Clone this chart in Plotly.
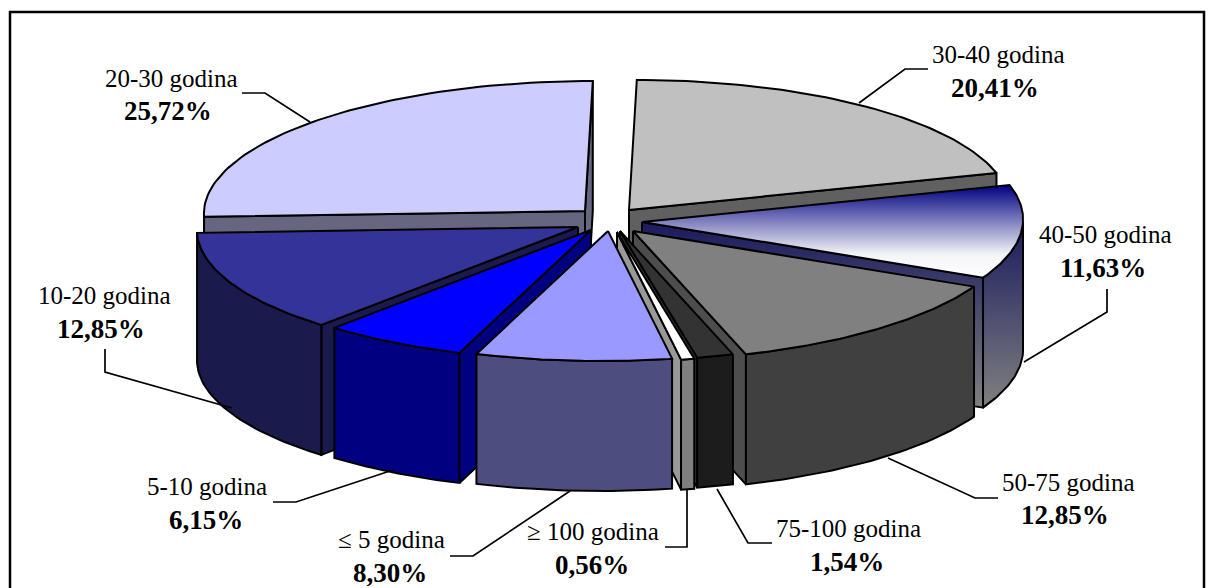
import numpy as np
import plotly.graph_objects as go

# ---- data (clockwise from the top) ----
categories = ["30-40 godina", "40-50 godina", "50-75 godina", "75-100 godina", "≥ 100 godina",
              "≤ 5 godina", "5-10 godina", "10-20 godina", "20-30 godina"]
shares = [20.41, 11.63, 12.85, 1.54, 0.56, 8.30, 6.15, 12.85, 25.72]

# ---- styling / layout ----
RX, RY, DEPTH, SHEAR = 381, 130, 130, 0.06
apex = [(629, 210), (642, 222), (633, 231), (620, 231), (617, 232),
        (608, 231), (591, 230), (578, 227), (585, 211)]
top_col = ["#C0C0C0", None, "#808080", "#333333", "#FFFFFF", "#9999FF", "#0000FF", "#333399", "#CCCCFF"]
side_col = ["#606060", None, "#404040", "#1C1C1C", "#808080", "#4D4D80", "#000080", "#1A1A4D", "#666680"]
wall_col = ["#606060", None, "#4D4D4D", "#333333", "#999999", "#4D4D80", "#000080", "#1A1A4D", "#666680"]
draw_order = [0, 8, 1, 7, 2, 6, 3, 4, 5]
name_x = [998, 1105, 1068, 848, 593, 391, 207, 104, 171]
pct_x = [995, 1103, 1065, 847, 592, 390, 206, 101, 168]
name_y = [54, 234, 482, 528, 531, 539, 486, 295, 78]
pct_y = [88, 268, 515, 562, 565, 573, 520, 329, 111]
leaders = [[(859, 103), (905, 69), (928, 69)],
           [(1024, 362), (1107, 312), (1107, 289)],
           [(888, 458), (975, 498), (998, 498)],
           [(717, 489), (748, 543), (772, 543)],
           [(687, 490), (687, 547), (665, 547)],
           [(570, 491), (473, 556), (450, 556)],
           [(393, 470), (296, 502), (273, 502)],
           [(232, 408), (105, 372), (105, 349)],
           [(310, 122), (265, 93), (242, 93)]]


def rim(a_deg, ax, ay):
    a = np.radians(a_deg)
    dy = -RY * np.cos(a)
    dx = RX * np.sin(a) - SHEAR * dy
    return ax + dx, ay + dy


def poly(fig, xs, ys, color=None, grad=None):
    kw = dict(fillgradient=dict(type="vertical", colorscale=grad)) if grad else dict(fillcolor=color)
    fig.add_trace(go.Scatter(x=list(xs), y=list(ys), mode="lines", fill="toself",
                             line=dict(color="black", width=2), hoverinfo="skip",
                             showlegend=False, **kw))


fig = go.Figure()
total = sum(shares)
edges = np.concatenate([[0], np.cumsum(shares)]) / total * 360
GRAD_TOP = [[0, "#FFFFFF"], [0.25, "#F4F4F8"], [1, "#000080"]]
GRAD_SIDE = [[0, "#808080"], [1, "#1A1A5E"]]

for i in draw_order:
    a0, a1 = edges[i], edges[i + 1]
    ax, ay = apex[i]
    arc = np.linspace(a0, a1, 60)
    px, py = rim(arc, ax, ay)
    grad = i == 1
    # radial walls
    if 180 < a0 < 360:
        x0, y0 = rim(a0, ax, ay)
        poly(fig, [ax, x0, x0, ax, ax], [ay, y0, y0 + DEPTH, ay + DEPTH, ay],
             wall_col[i], GRAD_SIDE if grad else None)
    if a1 < 180 or a1 > 355:
        x1, y1 = rim(a1, ax, ay)
        poly(fig, [ax, x1, x1, ax, ax], [ay, y1, y1 + DEPTH, ay + DEPTH, ay],
             wall_col[i], GRAD_SIDE if grad else None)
    # outer wall
    lo, hi = max(a0, 90), min(a1, 270)
    if hi > lo:
        sx, sy = rim(np.linspace(lo, hi, 40), ax, ay)
        xs = np.concatenate([sx, sx[::-1], sx[:1]])
        ys = np.concatenate([sy, sy[::-1] + DEPTH, sy[:1]])
        poly(fig, xs, ys, side_col[i], GRAD_SIDE if grad else None)
    # top
    xs = np.concatenate([[ax], px, [ax]])
    ys = np.concatenate([[ay], py, [ay]])
    poly(fig, xs, ys, top_col[i], GRAD_TOP if grad else None)

for pts in leaders:
    fig.add_trace(go.Scatter(x=[p[0] for p in pts], y=[p[1] for p in pts], mode="lines",
                             line=dict(color="black", width=1.7), hoverinfo="skip", showlegend=False))

for cat, val, nx, px_, ny, py_ in zip(categories, shares, name_x, pct_x, name_y, pct_y):
    pct = f"{val:.2f}".replace(".", ",") + "%"
    fig.add_annotation(x=nx, y=ny, text=cat, showarrow=False,
                       font=dict(family="Liberation Serif", size=25, color="black"),
                       xanchor="center", yanchor="middle")
    fig.add_annotation(x=px_, y=py_, text=f"<b>{pct}</b>", showarrow=False,
                       font=dict(family="Liberation Serif", size=27, color="black"),
                       xanchor="center", yanchor="middle")

fig.add_shape(type="rect", x0=10, x1=1204, y0=12, y1=620, line=dict(color="black", width=2.5),
              fillcolor="rgba(0,0,0,0)", layer="above")

fig.update_layout(width=1215, height=588, margin=dict(l=0, r=0, t=0, b=0),
                  paper_bgcolor="white", plot_bgcolor="white", showlegend=False,
                  xaxis=dict(range=[0, 1215], visible=False, fixedrange=True),
                  yaxis=dict(range=[588, 0], visible=False, fixedrange=True))
fig.write_html("out.html", config=dict(displayModeBar=False),
               post_script="document.body.style.margin='0';")
